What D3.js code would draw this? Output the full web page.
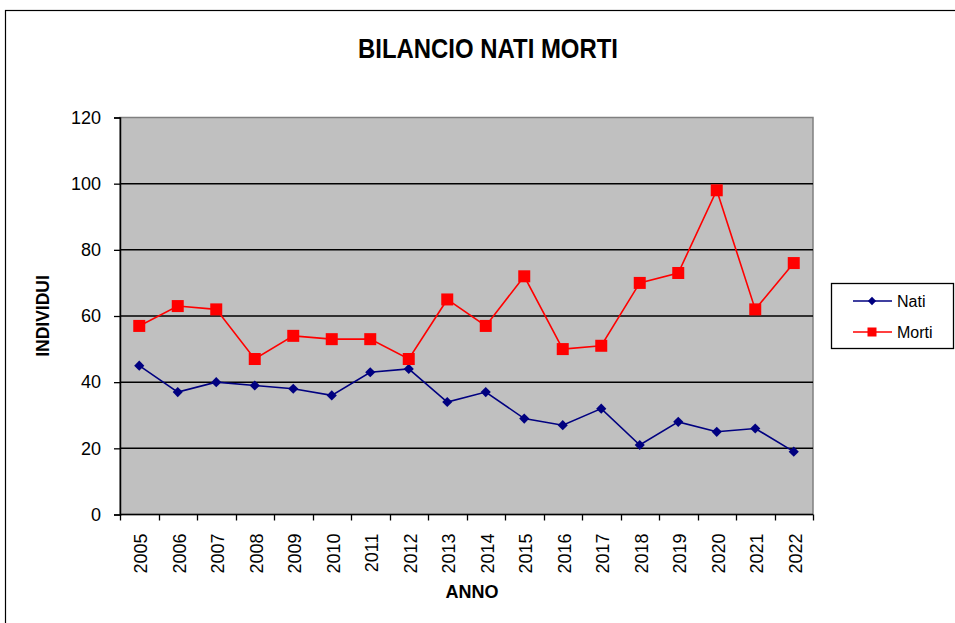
<!DOCTYPE html>
<html>
<head>
<meta charset="utf-8">
<script src="https://cdn.jsdelivr.net/npm/d3@7"></script>
<style>
  body { margin: 0; background: #fff; }
  text { font-family: "Liberation Sans", Arial, sans-serif; }
</style>
</head>
<body>
<script>
const anni = ["2005","2006","2007","2008","2009","2010","2011","2012","2013","2014","2015","2016","2017","2018","2019","2020","2021","2022"];
const nati = [45, 37, 40, 39, 38, 36, 43, 44, 34, 37, 29, 27, 32, 21, 28, 25, 26, 19];
const morti = [57, 63, 62, 47, 54, 53, 53, 47, 65, 57, 72, 50, 51, 70, 73, 98, 62, 76];
const yTicks = [0, 20, 40, 60, 80, 100, 120];

const W = 955, H = 623;
// plot area
const m = { left: 120, top: 117.5, right: 813, bottom: 514.5 };

const svg = d3.select("body").append("svg")
    .attr("width", W)
    .attr("height", H);

// outer chart frame (goes past the right and bottom edges)
svg.append("rect")
    .attr("x", 5.5).attr("y", 10.5)
    .attr("width", 980).attr("height", 640)
    .attr("fill", "#fff")
    .attr("stroke", "#000")
    .attr("stroke-width", 1.2);

const x = d3.scaleBand().domain(anni).range([m.left, m.right]);
const y = d3.scaleLinear().domain([0, 120]).range([m.bottom, m.top]);

// plot background
svg.append("rect")
    .attr("x", m.left).attr("y", m.top)
    .attr("width", m.right - m.left).attr("height", m.bottom - m.top)
    .attr("fill", "#c0c0c0")
    .attr("stroke", "#808080")
    .attr("stroke-width", 1.5);

// gridlines
svg.append("g").selectAll("line")
    .data(yTicks.filter(d => d > 0 && d < 120))
    .enter().append("line")
    .attr("x1", m.left).attr("x2", m.right)
    .attr("y1", d => y(d)).attr("y2", d => y(d))
    .attr("stroke", "#000")
    .attr("stroke-width", 1.5);

// y axis
const yAxis = d3.axisLeft(y).tickValues(yTicks).tickSize(6).tickPadding(13);
const gy = svg.append("g")
    .attr("transform", "translate(" + m.left + ",0)")
    .call(yAxis);
gy.select(".domain").attr("stroke", "#000").attr("stroke-width", 1.5);
gy.selectAll(".tick line").attr("stroke", "#000").attr("stroke-width", 1.3);
gy.selectAll(".tick text")
    .attr("font-size", 18)
    .attr("font-family", "Liberation Sans, Arial, sans-serif")
    .attr("fill", "#000");

// x axis: ticks at category boundaries
const gx = svg.append("g")
    .attr("transform", "translate(0," + m.bottom + ")");
gx.append("line")
    .attr("x1", m.left).attr("x2", m.right)
    .attr("y1", 0).attr("y2", 0)
    .attr("stroke", "#000").attr("stroke-width", 1.5);
gx.selectAll(".bnd")
    .data(anni.concat(["end"]))
    .enter().append("line")
    .attr("x1", (d, i) => Math.round(m.left + i * x.step()) + 0.5)
    .attr("x2", (d, i) => Math.round(m.left + i * x.step()) + 0.5)
    .attr("y1", 0).attr("y2", 6)
    .attr("stroke", "#000").attr("stroke-width", 1.3);
gx.selectAll(".lab")
    .data(anni)
    .enter().append("text")
    .attr("transform", d => "translate(" + (x(d) + x.bandwidth() / 2 + 8) + ",19) rotate(-90)")
    .attr("text-anchor", "end")
    .attr("font-size", 18)
    .attr("fill", "#000")
    .text(d => d);

// lines
const cx = d => x(d) + x.bandwidth() / 2;
const line = d3.line().x((d, i) => cx(anni[i])).y(d => y(d));

svg.append("path")
    .datum(nati)
    .attr("d", line)
    .attr("fill", "none")
    .attr("stroke", "#000080")
    .attr("stroke-width", 1.6);

svg.append("path")
    .datum(morti)
    .attr("d", line)
    .attr("fill", "none")
    .attr("stroke", "#ff0000")
    .attr("stroke-width", 1.6);

// markers
const diamond = d3.symbol().type(d3.symbolDiamond2).size(66);
svg.append("g").selectAll("path")
    .data(nati)
    .enter().append("path")
    .attr("d", diamond)
    .attr("transform", (d, i) => "translate(" + cx(anni[i]) + "," + y(d) + ")")
    .attr("fill", "#000080");

svg.append("g").selectAll("rect")
    .data(morti)
    .enter().append("rect")
    .attr("x", (d, i) => cx(anni[i]) - 6)
    .attr("y", d => y(d) - 6)
    .attr("width", 12).attr("height", 12)
    .attr("fill", "#ff0000");

// title
svg.append("text")
    .attr("x", 488).attr("y", 58)
    .attr("text-anchor", "middle")
    .attr("font-size", 27)
    .attr("font-weight", "bold")
    .attr("textLength", 260)
    .attr("lengthAdjust", "spacingAndGlyphs")
    .attr("fill", "#000")
    .text("BILANCIO NATI MORTI");

// axis titles
svg.append("text")
    .attr("transform", "translate(49,316) rotate(-90)")
    .attr("text-anchor", "middle")
    .attr("font-size", 17.5)
    .attr("font-weight", "bold")
    .attr("fill", "#000")
    .text("INDIVIDUI");

svg.append("text")
    .attr("x", 472).attr("y", 598)
    .attr("text-anchor", "middle")
    .attr("font-size", 18)
    .attr("font-weight", "bold")
    .attr("fill", "#000")
    .text("ANNO");

// legend
const lg = svg.append("g");
lg.append("rect")
    .attr("x", 831.5).attr("y", 283.5)
    .attr("width", 122).attr("height", 65)
    .attr("fill", "#fff")
    .attr("stroke", "#000")
    .attr("stroke-width", 1.3);

const leg = [
    { name: "Nati", color: "#000080", yy: 301, shape: "d" },
    { name: "Morti", color: "#ff0000", yy: 332, shape: "s" }
];
leg.forEach(s => {
    lg.append("line")
        .attr("x1", 853).attr("x2", 892)
        .attr("y1", s.yy).attr("y2", s.yy)
        .attr("stroke", s.color).attr("stroke-width", 1.5);
    if (s.shape === "d") {
        lg.append("path")
            .attr("d", d3.symbol().type(d3.symbolDiamond2).size(44))
            .attr("transform", "translate(872," + s.yy + ")")
            .attr("fill", s.color);
    } else {
        lg.append("rect")
            .attr("x", 867.5).attr("y", s.yy - 4.5)
            .attr("width", 9).attr("height", 9)
            .attr("fill", s.color);
    }
    lg.append("text")
        .attr("x", 897).attr("y", s.yy + 6)
        .attr("font-size", 16)
        .attr("fill", "#000")
        .text(s.name);
});
</script>
</body>
</html>
